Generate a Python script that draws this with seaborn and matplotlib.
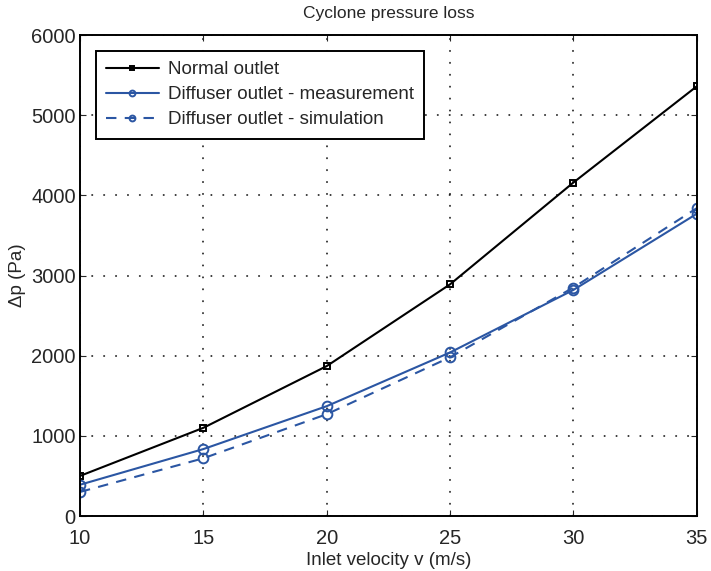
import numpy as np
import pandas as pd
import seaborn as sns
import matplotlib
matplotlib.use("Agg")
import matplotlib.pyplot as plt

velocity = [10, 15, 20, 25, 30, 35]
normal_outlet = [500, 1100, 1870, 2890, 4160, 5360]
diffuser_meas = [390, 835, 1370, 2040, 2820, 3770]
diffuser_sim = [300, 720, 1270, 1980, 2850, 3840]

series_names = [
    "Normal outlet",
    "Diffuser outlet - measurement",
    "Diffuser outlet - simulation",
]

rows = []
for name, vals in zip(series_names, [normal_outlet, diffuser_meas, diffuser_sim]):
    for v, p in zip(velocity, vals):
        rows.append([name, v, p])
df = pd.DataFrame(rows, columns=["Series", "v", "dp"])

sns.set_style("ticks")
plt.rcParams["font.family"] = ["Liberation Sans", "DejaVu Sans"]

fig = plt.figure(figsize=(7.11, 5.71), dpi=100)
ax = fig.add_axes([0.1125, 0.0963, 0.8675, 0.8424])

blue = "#2b56a3"
styles = {
    "Normal outlet": dict(color="black", marker="s", linestyle="-", ms=5),
    "Diffuser outlet - measurement": dict(color=blue, marker="o", linestyle="-", ms=7),
    "Diffuser outlet - simulation": dict(color=blue, marker="o", linestyle=(0, (5, 4)), ms=7),
}
for name in series_names:
    st = styles[name]
    sns.lineplot(
        data=df[df["Series"] == name], x="v", y="dp", ax=ax,
        color=st["color"], marker=st["marker"], linestyle=st["linestyle"],
        markersize=st["ms"], markerfacecolor="none", markeredgecolor=st["color"],
        markeredgewidth=1.4, linewidth=1.5, label=name,
    )

ax.set_xlim(10, 35)
ax.set_ylim(0, 6000)
ax.set_xticks([10, 15, 20, 25, 30, 35])
ax.set_yticks(np.arange(0, 6001, 1000))
ax.grid(True, color="black", linestyle=(0, (0.4, 7.4)), linewidth=1.1,
        dash_capstyle="round")
ax.tick_params(direction="in", labelsize=14.5, length=4, top=True, right=True)
ax.tick_params(axis="x", pad=9)
ax.tick_params(axis="y", pad=3)
for sp in ax.spines.values():
    sp.set_linewidth(1.4)
    sp.set_color("black")

ax.set_xlabel("Inlet velocity v (m/s)", fontsize=13.5, labelpad=3)
ax.set_ylabel("\u0394p (Pa)", fontsize=13.5, labelpad=4)
ax.set_title("Cyclone pressure loss", fontsize=12.5, pad=12)

leg = ax.legend(loc="upper left", fontsize=13.5, frameon=True, fancybox=False,
                edgecolor="black", framealpha=1, handlelength=2.8,
                borderaxespad=0.85, labelspacing=0.42, markerscale=0.6,
                borderpad=0.55, handletextpad=0.5)
leg.get_frame().set_linewidth(1.4)

fig.savefig("out.png", dpi=100)
